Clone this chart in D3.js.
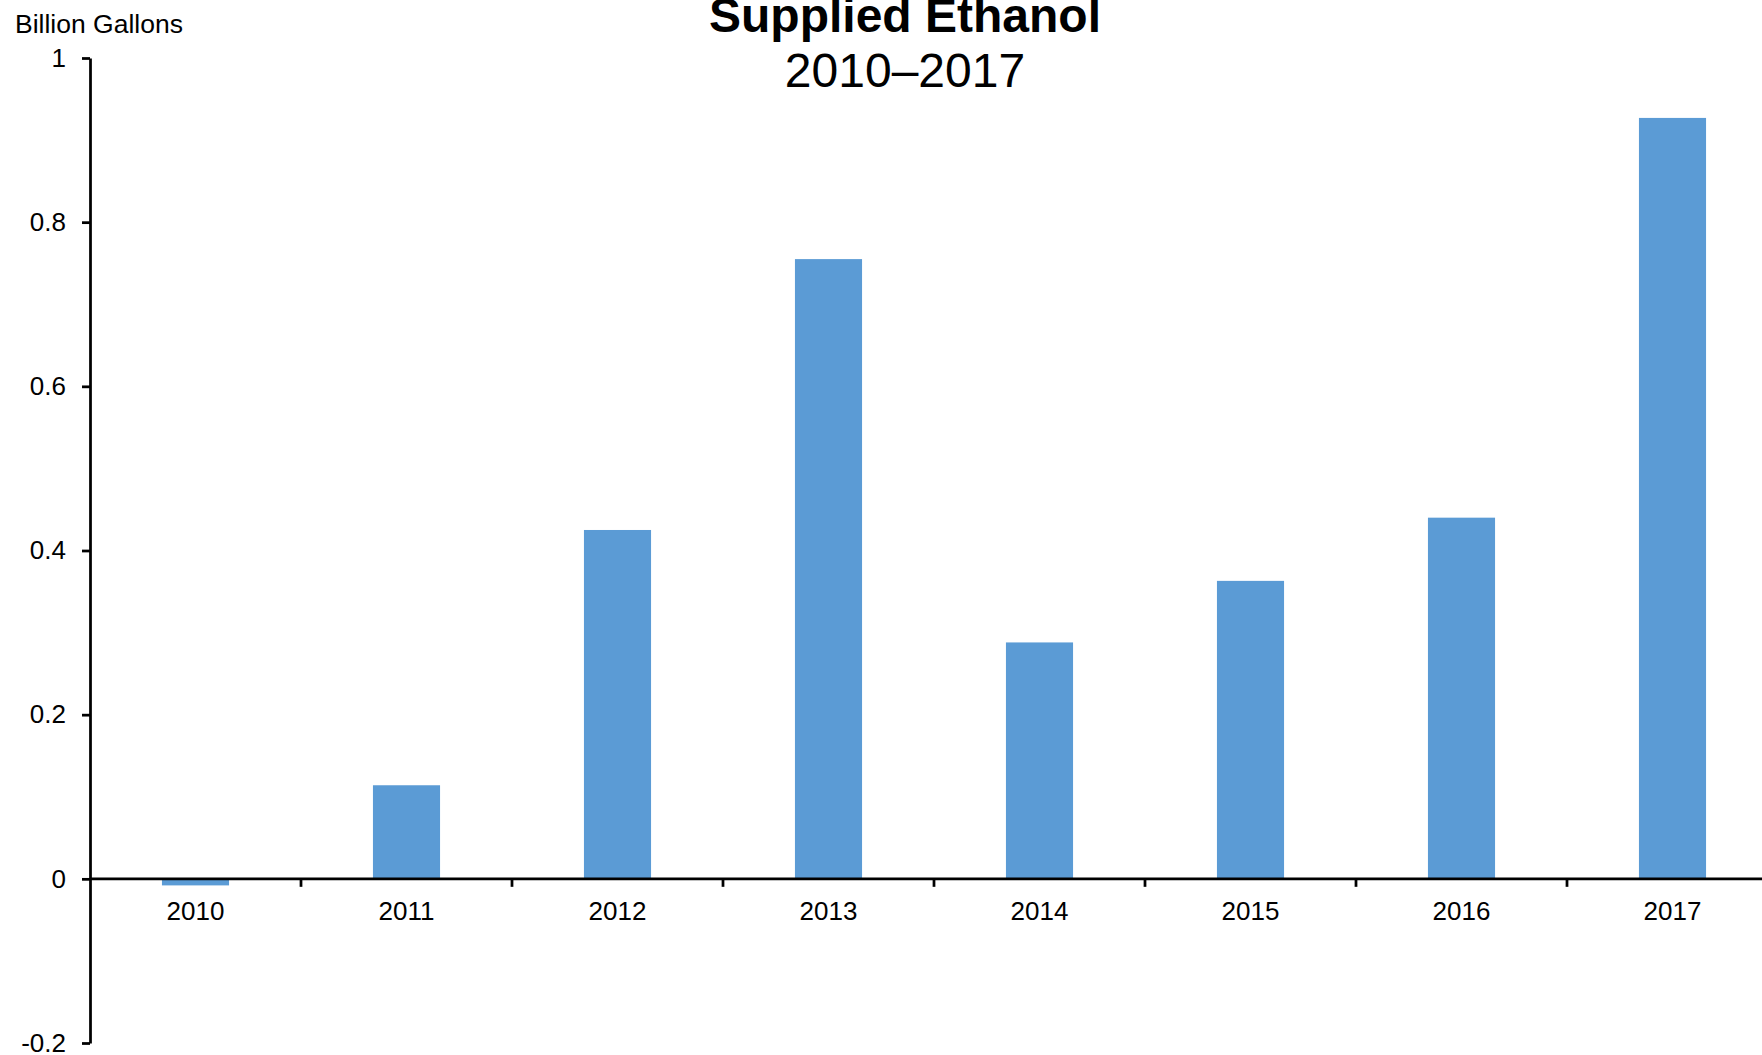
<!DOCTYPE html>
<html>
<head>
<meta charset="utf-8">
<script src="https://cdn.jsdelivr.net/npm/d3@7"></script>
<style>
  html, body { margin: 0; padding: 0; background: #fff; }
  svg { display: block; font-family: "Liberation Sans", Arial, sans-serif; }
</style>
</head>
<body>
<script>
const years = ["2010", "2011", "2012", "2013", "2014", "2015", "2016", "2017"];
const values = [-0.008, 0.114, 0.425, 0.755, 0.288, 0.363, 0.44, 0.927];
const yTicks = [-0.2, 0, 0.2, 0.4, 0.6, 0.8, 1];
const yTickLabels = ["-0.2", "0", "0.2", "0.4", "0.6", "0.8", "1"];
const titleText = "Supplied Ethanol";
const subtitleText = "2010\u20132017";
const unitText = "Billion Gallons";

const W = 1762, H = 1055;
const svg = d3.select("body").append("svg").attr("width", W).attr("height", H);

const x = d3.scaleBand().domain(years).range([90, 1778]).padding(0);
const y = d3.scaleLinear().domain([-0.2, 1]).range([1043, 58]);
const barFrac = 0.318;
const bw = x.bandwidth() * barFrac;

// bars
svg.append("g").selectAll("rect").data(values).join("rect")
  .attr("x", (d, i) => x(years[i]) + (x.bandwidth() - bw) / 2)
  .attr("width", bw)
  .attr("y", d => y(Math.max(0, d)))
  .attr("height", d => Math.abs(y(d) - y(0)))
  .attr("fill", "#5B9BD5");

// y axis
const yAxis = d3.axisLeft(y).tickValues(yTicks)
  .tickFormat((d, i) => yTickLabels[i])
  .tickSize(8).tickSizeOuter(0).tickPadding(16);
const gy = svg.append("g").attr("transform", "translate(90,0)").call(yAxis);
gy.select(".domain").attr("stroke", "#000").attr("stroke-width", 2.75);
gy.selectAll(".tick line").attr("stroke", "#000").attr("stroke-width", 2.75);
gy.selectAll(".tick text").attr("font-size", 26).attr("fill", "#000")
  .attr("font-family", "'Liberation Sans', Arial, sans-serif");

// x axis line at zero
const y0 = y(0);
svg.append("line").attr("x1", 90).attr("x2", W).attr("y1", y0).attr("y2", y0)
  .attr("stroke", "#000").attr("stroke-width", 2.75);
// x ticks at category boundaries
svg.append("g").selectAll("line").data(years.slice(1)).join("line")
  .attr("x1", d => x(d)).attr("x2", d => x(d))
  .attr("y1", y0).attr("y2", y0 + 8)
  .attr("stroke", "#000").attr("stroke-width", 2.75);
// x labels
svg.append("g").selectAll("text").data(years).join("text")
  .attr("x", d => x(d) + x.bandwidth() / 2)
  .attr("y", y0 + 41)
  .attr("text-anchor", "middle")
  .attr("font-size", 26)
  .attr("fill", "#000")
  .text(d => d);

// titles
svg.append("text").attr("x", 905).attr("y", 32).attr("text-anchor", "middle")
  .attr("font-size", 48).attr("font-weight", "bold").text(titleText);
svg.append("text").attr("x", 905).attr("y", 87).attr("text-anchor", "middle")
  .attr("font-size", 48).text(subtitleText);
svg.append("text").attr("x", 15).attr("y", 33)
  .attr("font-size", 26.5).text(unitText);
</script>
</body>
</html>
